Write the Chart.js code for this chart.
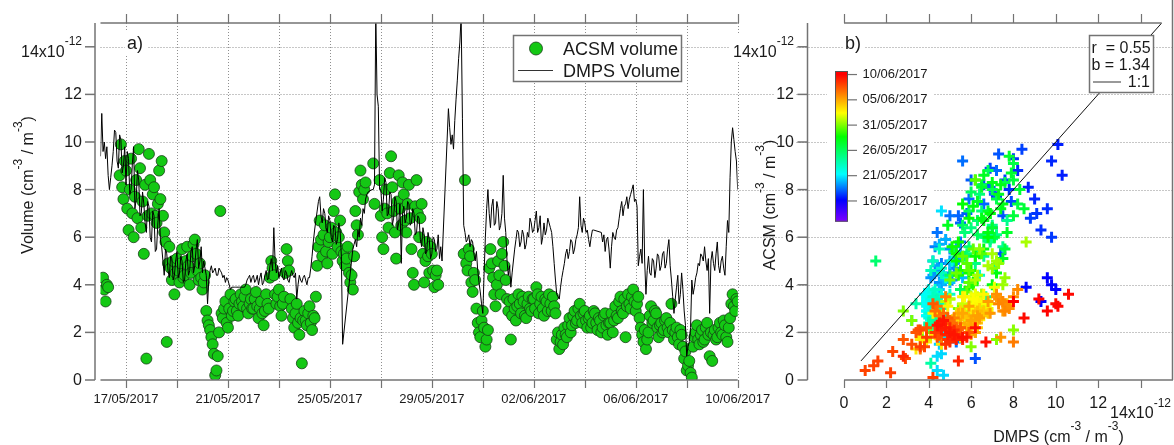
<!DOCTYPE html>
<html><head><meta charset="utf-8">
<script src="https://cdn.jsdelivr.net/npm/chart.js@4.4.1/dist/chart.umd.min.js"></script>
<style>
html,body{margin:0;padding:0;background:#fff;}
#wrap{position:relative;width:1174px;height:445px;overflow:hidden;background:#fff;}
canvas{position:absolute;left:0;top:0;}
</style></head><body>
<div id="wrap"><canvas id="left" width="1174" height="445"></canvas><canvas id="right" width="1174" height="445"></canvas></div>
<script>
// ---- time base: days since 16/05/2017 00:00, one sample every 0.05 day (one row = one day) ----
const STEP_DAYS = 0.05;

// DMPS volume (x1e-12 cm^-3 / m^-3), read from panel a); null = gap (drawn as straight line)
const dmpsVolume = [
 9.4,11.2,9.6,10.0,9.3,9.8,8.6,8.0,8.5,9.0,9.6,10.5,10.4,9.2,8.9,10.3,10.1,8.7,9.0,9.8,
 8.2,9.6,9.3,7.8,8.0,9.1,9.8,7.2,7.6,8.8,8.4,6.9,7.0,7.9,7.4,6.6,6.2,7.5,7.3,6.0,
 5.8,7.1,6.9,5.4,5.5,6.6,7.2,5.9,5.6,5.0,4.4,5.5,5.3,4.6,4.3,5.2,5.1,4.2,4.4,5.0,
 5.4,4.3,4.5,5.2,5.0,4.1,4.2,5.0,5.3,4.4,4.6,5.4,5.6,4.5,4.8,5.5,5.9,4.7,5.0,5.6,
 4.5,5.0,4.7,4.4,3.2,4.2,4.6,4.8,4.5,4.6,4.7,4.4,4.4,4.7,4.6,4.5,4.3,4.4,4.1,4.3,
 4.2,4.0,3.8,3.9,3.9,3.9,3.9,3.9,3.9,3.9,3.9,3.9,3.9,3.9,4.0,4.2,4.3,4.4,4.1,4.3,
 4.4,4.1,4.2,4.4,4.0,4.3,4.5,4.0,4.1,4.4,4.6,4.2,4.3,4.8,5.1,4.6,6.4,5.0,4.5,4.8,
 4.3,4.5,4.7,4.3,4.2,4.6,4.5,4.2,4.1,4.4,4.6,4.4,4.3,4.5,3.4,4.0,4.4,4.2,4.1,4.3,
 4.4,4.2,4.0,4.3,4.3,4.7,5.2,5.8,6.3,6.7,7.1,7.5,7.7,6.9,6.6,7.2,7.0,6.4,6.2,6.9,
 6.7,6.0,5.8,6.5,6.4,5.7,5.9,6.6,6.3,5.2,1.5,null,null,null,null,null,null,5.0,5.5,5.7,
 5.9,5.6,6.3,6.0,6.8,6.5,7.2,7.0,7.6,7.8,7.9,null,null,8.0,8.0,8.2,15.5,12.0,11.5,8.0,
 8.0,7.1,7.6,8.5,8.3,6.9,7.0,7.9,7.8,6.5,6.8,7.7,7.5,6.3,6.6,7.4,4.9,7.0,7.3,6.6,
 6.8,7.5,7.4,6.5,6.6,7.2,7.0,6.1,6.2,6.9,6.8,5.9,5.6,6.4,6.1,5.3,5.4,6.2,5.9,5.1,
 5.3,6.0,5.9,5.4,5.5,6.1,5.1,5.6,5.0,null,null,null,null,11.4,10.6,9.9,10.3,9.7,10.9,11.8,
 12.6,13.5,14.2,15.3,11.0,6.5,6.2,5.8,5.9,6.1,5.6,5.9,5.8,5.3,5.0,5.4,4.6,4.1,3.7,3.2,
 2.8,4.5,6.0,7.2,8.0,7.0,6.4,7.3,7.6,6.5,6.6,7.5,7.2,6.3,6.5,7.0,8.6,6.8,6.2,5.0,
 4.4,4.8,3.9,4.5,5.0,5.5,5.9,6.3,6.2,5.6,5.8,6.3,6.1,5.5,5.7,6.2,6.0,6.8,6.6,6.2,
 6.3,6.7,7.1,6.2,6.4,6.9,5.7,6.0,6.6,6.1,6.3,6.8,6.6,6.4,6.2,5.6,4.9,4.2,3.6,3.5,
 3.4,3.9,4.3,4.6,4.9,5.3,5.5,5.1,5.4,5.9,5.8,5.3,5.5,5.9,6.1,6.4,7.7,6.5,6.2,6.8,
 6.6,6.2,6.3,5.9,5.6,6.0,6.3,6.3,null,null,null,null,null,6.2,5.8,6.1,5.4,5.9,6.0,5.5,
 4.7,5.6,6.2,6.0,5.9,6.3,6.4,6.8,7.2,7.5,6.9,7.3,7.4,7.7,7.2,7.6,7.8,8.0,8.2,7.5,
 7.6,7.3,4.8,5.2,5.5,4.9,8.0,5.0,3.6,4.6,5.2,4.5,4.4,5.1,5.0,4.3,4.7,5.3,5.2,4.6,
 4.8,5.3,5.4,4.7,4.9,5.5,5.9,4.8,4.2,3.5,2.8,3.4,3.9,4.4,3.2,3.6,4.5,3.8,2.9,2.3,
 1.0,1.4,1.6,2.2,4.2,3.6,3.9,4.3,4.5,4.9,4.8,5.3,5.2,5.0,5.6,5.0,4.6,5.1,2.8,5.0,
 5.4,4.9,4.6,5.3,5.8,4.8,4.5,5.0,5.2,4.7,4.4,5.6,6.7,6.2,8.5,10.0,10.6,10.1,9.6,9.2,
 8.0
];

// ACSM volume (x1e-12), same time base, null = no data
const acsmVolume = [
 null,null,4.3,3.8,3.3,4.0,3.9,null,null,null,null,null,null,null,null,8.6,9.9,8.1,7.6,9.2,
 8.8,7.2,6.3,8.0,9.3,7.0,6.0,7.7,8.4,6.8,9.7,8.9,6.4,7.5,5.3,8.2,0.9,6.9,9.5,8.4,
 7.0,7.8,8.1,6.9,6.6,7.4,8.8,7.6,9.2,6.9,6.2,5.8,1.6,4.9,5.6,4.7,4.2,5.0,3.6,4.5,
 5.1,4.6,4.1,4.9,5.5,4.3,4.4,5.0,5.6,4.8,4.0,4.5,5.2,5.7,5.9,5.3,4.6,4.2,4.9,4.3,
 3.8,4.1,4.4,2.9,2.5,2.3,2.1,1.8,1.5,1.1,0.2,0.4,1.0,2.0,7.1,2.8,2.6,3.0,3.3,2.4,
 2.2,3.0,3.6,2.7,2.9,3.3,3.4,2.9,2.7,3.2,3.6,3.3,3.1,3.5,3.8,3.0,2.8,3.2,3.4,3.0,
 3.0,3.4,3.7,3.1,2.6,3.0,3.3,2.8,2.3,2.9,3.6,3.2,3.0,4.3,5.0,4.7,4.4,3.6,3.2,3.5,
 3.8,3.1,2.7,3.2,3.5,4.5,5.5,5.0,4.6,3.4,3.0,2.6,2.2,2.8,3.2,2.4,1.9,2.6,0.7,2.5,
 2.9,2.5,2.3,2.8,3.1,2.4,2.1,2.7,2.6,3.5,4.8,5.6,6.7,5.9,5.2,6.1,6.5,5.4,4.9,5.8,
 6.0,6.4,5.3,7.1,7.8,6.2,5.6,6.0,6.7,5.4,5.0,5.3,4.8,5.1,5.6,4.5,4.1,4.4,3.8,5.2,
 7.1,6.5,6.1,7.9,8.8,8.2,7.6,8.0,8.3,null,null,null,null,null,9.1,7.4,null,null,null,8.4,
 6.9,6.0,5.5,7.2,8.0,7.0,6.4,8.7,9.4,8.1,7.1,6.2,5.1,7.5,8.6,7.2,6.5,8.3,7.8,6.7,
 6.2,7.4,8.2,6.8,5.5,4.5,4.0,7.3,8.4,7.0,6.0,6.8,7.4,5.3,4.1,5.0,5.8,5.2,4.5,5.6,
 5.3,4.6,3.9,4.4,4.6,4.0,null,null,null,null,null,null,null,null,null,null,null,null,null,null,
 null,null,null,null,null,5.3,8.4,4.9,4.6,5.5,5.2,4.1,3.7,4.5,4.2,3.0,2.4,2.0,1.8,2.5,
 2.9,2.2,1.4,1.7,2.1,4.7,5.5,4.9,4.3,3.6,3.1,4.0,5.0,4.4,3.6,5.3,5.8,4.8,4.2,3.4,
 2.9,3.3,1.7,2.7,3.4,3.0,2.5,3.1,3.6,3.2,2.8,3.5,3.3,2.7,2.6,3.2,3.5,3.0,2.9,3.4,
 3.4,3.0,3.9,3.6,2.8,3.2,3.5,3.0,2.7,3.4,3.3,2.9,3.6,3.2,2.9,3.5,3.1,2.8,1.7,2.0,
 1.3,1.6,1.9,1.5,2.2,1.9,1.8,2.3,2.6,2.0,2.3,2.7,2.9,2.4,2.5,3.0,3.2,2.7,2.4,2.8,
 2.9,2.5,2.2,2.6,2.7,2.2,2.4,2.9,2.8,2.4,2.1,2.6,2.5,2.0,2.2,2.7,2.8,2.3,1.9,2.4,
 2.4,2.8,2.0,2.5,3.1,2.7,2.6,3.3,3.5,2.9,2.8,3.4,1.8,3.1,3.6,3.2,3.0,3.5,3.8,3.3,
 2.9,3.2,3.5,2.6,2.2,1.9,1.6,2.1,1.3,1.7,2.0,2.7,3.1,2.4,2.5,2.9,2.8,2.2,1.8,2.3,
 2.4,2.0,2.1,2.5,2.6,2.2,2.0,2.4,3.2,2.1,1.7,2.0,2.2,1.8,1.5,2.1,1.9,1.4,0.9,1.2,
 0.4,0.6,0.8,0.3,0.1,1.4,1.8,2.0,2.3,1.7,1.5,1.9,2.1,1.6,1.7,2.2,2.4,1.9,1.0,2.0,
 0.8,1.9,2.1,1.7,1.8,2.2,2.4,2.0,1.9,2.5,2.3,1.8,1.6,2.2,2.6,3.2,3.6,3.1,2.9,3.4,
 3.3
];

const dateTickDays   = [1, 5, 9, 13, 17, 21, 25];
const dateTickLabels = ['17/05/2017','21/05/2017','25/05/2017','29/05/2017','02/06/2017','06/06/2017','10/06/2017'];
const dateGridDays   = [1,3,5,7,9,11,13,15,17,19,21,23,25];
const volumeTicks    = [0,2,4,6,8,10,12];
const volumeGrid     = [2,4,6,8,10,12,14];
const allVolumeTicks = [0,2,4,6,8,10,12,14];
const colorbarDays   = [25,20,15,10,5,0];
const colorbarLabels = ['10/06/2017','05/06/2017','31/05/2017','26/05/2017','21/05/2017','16/05/2017'];
const statsLines     = ['r  = 0.55','b = 1.34'];
const oneToOneRange  = [0.8, 15];

// colour map (day -> rgb), rainbow as in the colour bar
const colorStops = [[-4.1,[128,0,255]],[0.2,[0,0,255]],[5.3,[0,255,255]],[12.7,[0,255,0]],[17.4,[255,255,0]],[25,[255,0,0]],[25.7,[255,0,0]]];
const CB_MIN = -4.1, CB_MAX = 25.7;

function dayColor(d){
  if (d <= colorStops[0][0]) return 'rgb('+colorStops[0][1].join(',')+')';
  for (let i=1;i<colorStops.length;i++){
    const [d1,c1]=colorStops[i];
    if (d <= d1){
      const [d0,c0]=colorStops[i-1];
      const t=(d-d0)/(d1-d0);
      return 'rgb('+c0.map((v,k)=>Math.round(v+(c1[k]-v)*t)).join(',')+')';
    }
  }
  return 'rgb(255,0,0)';
}

const days = dmpsVolume.map((_, i) => +(i*STEP_DAYS).toFixed(3));
const dmpsPoints = dmpsVolume.map((v,i)=>({x:days[i], y:v}));
const acsmPoints = [];
acsmVolume.forEach((v,i)=>{ if (v!==null) acsmPoints.push({x:days[i], y:v}); });
const pairPoints = [], pairColors = [];
acsmVolume.forEach((v,i)=>{ if (v!==null && dmpsVolume[i]!=null){ pairPoints.push({x:dmpsVolume[i], y:v}); pairColors.push(dayColor(days[i])); } });

const FAM = "'Liberation Sans', Arial, Helvetica, sans-serif";
Chart.defaults.font.family = FAM;
Chart.defaults.color = '#1a1a1a';
const FRAME = '#737373', GRID = '#8f8f8f', TXT = '#1a1a1a';
function font(px){ return px+'px '+FAM; }
function seg(ctx,x1,y1,x2,y2){ ctx.beginPath(); ctx.moveTo(x1,y1); ctx.lineTo(x2,y2); ctx.stroke(); }
function richText(ctx, parts, x, y, align, size){
  const sup=12, raise=11.5;
  const widths = parts.map(([t,s])=>{ ctx.font=font(s?sup:size); return ctx.measureText(t).width; });
  const total = widths.reduce((a,b)=>a+b,0);
  let cx = align==='center' ? x-total/2 : align==='right' ? x-total : x;
  ctx.textAlign='left'; ctx.textBaseline='alphabetic'; ctx.fillStyle=TXT;
  parts.forEach(([t,s],i)=>{ ctx.font=font(s?sup:size); ctx.fillText(t,cx,s?y-raise:y); cx+=widths[i]; });
  return total;
}
function yLabels(ctx, y, right){
  ctx.fillStyle=TXT; ctx.font=font(16); ctx.textAlign='right'; ctx.textBaseline='middle';
  volumeTicks.forEach(v=>{ ctx.fillText(String(v), right, y.getPixelForValue(v)+0.5); });
}
const expLabel = [['14x10',false],['-12',true]];
const volTitle = [['Volume (cm',false],['-3',true],[' / m',false],['-3',true],[')',false]];
const acsmTitle = [['ACSM (cm',false],['-3',true],[' / m',false],['-3',true],[')',false]];
const dmpsTitle = [['DMPS (cm',false],['-3',true],[' / m',false],['-3',true],[')',false]];

const leftDecor = {
  id:'leftDecor',
  beforeDatasetsDraw(chart){
    const {ctx, chartArea:a, scales:{x,y}} = chart;
    ctx.save();
    ctx.strokeStyle=GRID; ctx.lineWidth=1; ctx.setLineDash([1,2]);
    volumeGrid.forEach(v=>{ const py=Math.round(y.getPixelForValue(v))+0.5; seg(ctx,a.left,py,chart.width-1,py); });
    dateGridDays.forEach(d=>{ const px=Math.round(x.getPixelForValue(d))+0.5; seg(ctx,px,a.top,px,a.bottom); });
    ctx.restore();
  },
  afterDraw(chart){
    const {ctx, chartArea:a, scales:{x,y}} = chart;
    ctx.save();
    ctx.strokeStyle=FRAME; ctx.lineWidth=1.5;
    seg(ctx,a.left,a.top,a.right,a.top);
    seg(ctx,a.left,a.bottom,a.right,a.bottom);
    const ax=a.left-5.5;
    seg(ctx,ax,a.top,ax,a.bottom);
    allVolumeTicks.forEach(v=>{ const py=y.getPixelForValue(v); seg(ctx,ax-10,py,ax,py); });
    ctx.lineWidth=1.2;
    dateGridDays.forEach(d=>{ const px=Math.round(x.getPixelForValue(d))+0.5; seg(ctx,px,a.bottom,px,a.bottom+8); seg(ctx,px,a.top-9,px,a.top); });
    yLabels(ctx, y, 82);
    richText(ctx, expLabel, 82, y.getPixelForValue(14)+10, 'right', 16);
    ctx.save(); ctx.translate(33,185); ctx.rotate(-Math.PI/2);
    richText(ctx, volTitle, 0, 0, 'center', 16); ctx.restore();
    ctx.fillStyle='#fff'; ctx.fillRect(125,32,22,22);
    ctx.fillStyle=TXT; ctx.font=font(18); ctx.textAlign='left'; ctx.textBaseline='alphabetic';
    ctx.fillText('a)',127,49);
    // legend
    ctx.fillStyle='#fff'; ctx.fillRect(513.5,35.5,168,46);
    ctx.strokeStyle=FRAME; ctx.lineWidth=1.5; ctx.strokeRect(513.5,35.5,168,46);
    ctx.beginPath(); ctx.arc(536,48.5,6.5,0,Math.PI*2); ctx.fillStyle='#14c814'; ctx.fill();
    ctx.strokeStyle='#173f17'; ctx.lineWidth=0.8; ctx.stroke();
    ctx.strokeStyle='#333'; ctx.lineWidth=1; seg(ctx,518,70.5,553,70.5);
    ctx.fillStyle=TXT; ctx.font=font(18);
    ctx.fillText(chart.data.datasets[1].label,563,55);
    ctx.fillText(chart.data.datasets[0].label,563,77);
    ctx.restore();
  }
};

new Chart(document.getElementById('left'),{
  type:'scatter',
  data:{datasets:[
    {label:'DMPS Volume', data:dmpsPoints, showLine:true, spanGaps:true, borderColor:'#000', borderWidth:1, pointRadius:0, tension:0},
    {label:'ACSM volume', data:acsmPoints, pointRadius:5.5, pointBackgroundColor:'#14c814', pointBorderColor:'#173f17', pointBorderWidth:0.8}
  ]},
  options:{
    responsive:false, animation:false, events:[],
    layout:{padding:{left:0,right:1174-737.7,top:23,bottom:0}},
    plugins:{legend:{display:false},tooltip:{enabled:false}},
    scales:{
      x:{type:'linear',min:0,max:25,grid:{display:false,drawTicks:false},border:{display:false},
         afterBuildTicks:s=>{ s.ticks=dateGridDays.map(v=>({value:v})); },
         afterFit:s=>{ s.height=65; },
         ticks:{autoSkip:false,maxRotation:0,padding:12,font:{size:13},color:TXT,
           callback:v=>{ const k=dateTickDays.indexOf(v); return k>=0?dateTickLabels[k]:''; }}},
      y:{type:'linear',min:0,max:15,grid:{display:false,drawTicks:false},border:{display:false},
         afterBuildTicks:s=>{ s.ticks=volumeTicks.map(v=>({value:v})); },
         afterFit:s=>{ s.width=100.5; },
         ticks:{display:false}}
    }
  },
  plugins:[leftDecor]
});

const rightDecor = {
  id:'rightDecor',
  beforeDraw(chart){
    const {ctx, scales:{y}} = chart;
    ctx.save(); ctx.fillStyle='#fff'; ctx.font=font(16);
    volumeTicks.forEach(v=>{ const w=ctx.measureText(String(v)).width; const py=y.getPixelForValue(v); ctx.fillRect(794-w-2,py-9,w+4,18); });
    ctx.fillRect(730,34,66,26);
    ctx.fillRect(827,62,107,166);
    ctx.fillRect(843,32,22,22);
    ctx.restore();
  },
  afterDraw(chart){
    const {ctx, chartArea:a, scales:{x,y}} = chart;
    ctx.save();
    ctx.strokeStyle=FRAME; ctx.lineWidth=1.5;
    const ax=807.5;
    seg(ctx,ax,a.top,ax,a.bottom);
    allVolumeTicks.forEach(v=>{ const py=y.getPixelForValue(v); seg(ctx,ax-10,py,ax,py); });
    seg(ctx,a.left,a.top,a.right,a.top);
    seg(ctx,a.left,a.bottom,1173,a.bottom);
    seg(ctx,1172.5,0,1172.5,a.bottom);
    ctx.lineWidth=1.2;
    allVolumeTicks.forEach(v=>{ const px=Math.round(x.getPixelForValue(v))+0.5; seg(ctx,px,a.bottom,px,a.bottom+8); seg(ctx,px,a.top-9,px,a.top); });
    yLabels(ctx, y, 794);
    richText(ctx, expLabel, 794, y.getPixelForValue(14)+10, 'right', 16);
    richText(ctx, expLabel, x.getPixelForValue(14), 418, 'center', 16);
    ctx.save(); ctx.translate(775,205); ctx.rotate(-Math.PI/2);
    richText(ctx, acsmTitle, 0, 0, 'center', 16); ctx.restore();
    richText(ctx, dmpsTitle, 1058.5, 441.5, 'center', 16);
    ctx.fillStyle=TXT; ctx.font=font(18); ctx.textAlign='left'; ctx.textBaseline='alphabetic';
    ctx.fillText('b)',845,49);
    // colour bar
    const cbTop=71, cbBot=221.7, cbL=835, cbR=848;
    const dy = d => cbBot-(d-CB_MIN)/(CB_MAX-CB_MIN)*(cbBot-cbTop);
    const g=ctx.createLinearGradient(0,cbBot,0,cbTop);
    colorStops.forEach(([d,c])=>{ g.addColorStop(Math.min(1,Math.max(0,(d-CB_MIN)/(CB_MAX-CB_MIN))),'rgb('+c.join(',')+')'); });
    ctx.fillStyle=g; ctx.fillRect(cbL,cbTop,cbR-cbL,cbBot-cbTop);
    ctx.strokeStyle='#555'; ctx.lineWidth=1; ctx.strokeRect(cbL+0.5,cbTop+0.5,cbR-cbL-1,cbBot-cbTop-1);
    ctx.strokeStyle=FRAME; ctx.lineWidth=1.2;
    ctx.fillStyle=TXT; ctx.font=font(13); ctx.textBaseline='middle';
    colorbarDays.forEach((d,i)=>{ const py=dy(d); seg(ctx,cbR,py,cbR+9,py); ctx.fillText(colorbarLabels[i],862.5,py); });
    // stats box
    ctx.fillStyle='#fff'; ctx.fillRect(1089.5,35.5,64,57);
    ctx.strokeStyle=FRAME; ctx.lineWidth=1.5; ctx.strokeRect(1089.5,35.5,64,57);
    ctx.fillStyle=TXT; ctx.font=font(16); ctx.textBaseline='alphabetic'; ctx.textAlign='left';
    ctx.fillText(statsLines[0],1091.5,52.5);
    ctx.fillText(statsLines[1],1091.5,69.5);
    ctx.textAlign='right'; ctx.fillText('1:1',1150,87);
    ctx.strokeStyle='#777'; ctx.lineWidth=1.5; seg(ctx,1093,82,1121,82);
    ctx.restore();
  }
};

new Chart(document.getElementById('right'),{
  type:'scatter',
  data:{datasets:[
    {data:oneToOneRange.map(v=>({x:v,y:v})), showLine:true, borderColor:'#111', borderWidth:1, pointRadius:0},
    {data:pairPoints, pointStyle:'cross', pointRadius:5.5, pointBorderWidth:3, pointBorderColor:pairColors, pointBackgroundColor:pairColors}
  ]},
  options:{
    responsive:false, animation:false, events:[],
    layout:{padding:{left:0,right:12.3,top:23,bottom:0}},
    plugins:{legend:{display:false},tooltip:{enabled:false}},
    scales:{
      x:{type:'linear',min:0,max:15,grid:{display:false,drawTicks:false},border:{display:false},
         afterBuildTicks:s=>{ s.ticks=volumeTicks.map(v=>({value:v})); },
         afterFit:s=>{ s.height=65; },
         ticks:{autoSkip:false,maxRotation:0,padding:14,font:{size:16},color:TXT}},
      y:{type:'linear',min:0,max:15,grid:{display:false,drawTicks:false},border:{display:false},
         afterBuildTicks:s=>{ s.ticks=volumeTicks.map(v=>({value:v})); },
         afterFit:s=>{ s.width=844; },
         ticks:{display:false}}
    }
  },
  plugins:[rightDecor]
});
</script>
</body></html>
